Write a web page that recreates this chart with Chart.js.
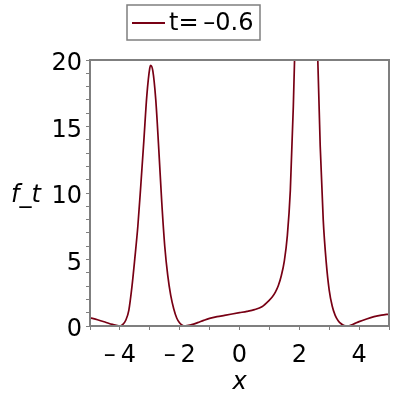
<!DOCTYPE html>
<html><head><meta charset="utf-8">
<script src="https://cdn.jsdelivr.net/npm/chart.js@4"></script>
<style>html,body{margin:0;padding:0;background:#fff}#wrap{width:400px;height:400px}</style>
</head><body><div id="wrap"><canvas id="c" width="400" height="400"></canvas></div>
<script>
const seriesLabel = 't=\u2009–0.6';
const xValues = [-5, -4.75, -4.5, -4.25, -4, -3.9, -3.8, -3.7, -3.6, -3.5, -3.4, -3.3, -3.2, -3.1, -3.0, -2.97, -2.9, -2.8, -2.7, -2.6, -2.5, -2.4, -2.3, -2.2, -2.1, -2.0, -1.9, -1.85, -1.6, -1.4, -1.2, -1.0, -0.75, -0.5, -0.25, 0, 0.25, 0.5, 0.75, 1.0, 1.1, 1.2, 1.3, 1.4, 1.5, 1.6, 1.7, 1.8, 1.9, 2.0, 2.1, 2.2, 2.3, 2.4, 2.5, 2.6, 2.7, 2.8, 2.9, 3.0, 3.1, 3.2, 3.3, 3.4, 3.5, 3.6, 3.8, 4.0, 4.25, 4.5, 4.75, 5.0];
const yValues = [0.62, 0.47, 0.3, 0.12, 0.0, 0.12, 0.45, 1.2, 2.9, 5.1, 7.5, 10.6, 13.9, 17.3, 19.4, 19.6, 19.2, 17.0, 13.3, 9.3, 6.0, 3.8, 2.3, 1.3, 0.6, 0.22, 0.03, 0.0, 0.1, 0.25, 0.42, 0.57, 0.7, 0.8, 0.9, 1.0, 1.1, 1.23, 1.45, 1.95, 2.2, 2.55, 3.05, 3.8, 4.9, 6.8, 10.2, 16.5, 25, 37, 50, 58, 55, 44, 31, 21.5, 13.5, 8.0, 4.8, 2.7, 1.5, 0.8, 0.4, 0.17, 0.04, 0.0, 0.13, 0.33, 0.53, 0.7, 0.82, 0.9];
const xTickValues = [-5, -4, -3, -2, -1, 0, 1, 2, 3, 4, 5];
const xTickLabels = ['', '–\u20094', '', '–\u20092', '', '0', '', '2', '', '4', ''];
const yTickValues = [0,1,2,3,4,5,6,7,8,9,10,11,12,13,14,15,16,17,18,19,20];
const yTickLabels = ['0','','','','','5','','','','','10','','','','','15','','','','','20'];
const xTitle = 'x';
const yTitle = 'f_t';

const FONT = 'DejaVu Sans';
const GRAY = '#7f7f7f';
const LINE = '#780014';

const framePlugin = {
  id: 'frame',
  afterDraw(chart) {
    const {ctx, chartArea: a} = chart;
    ctx.save();
    ctx.strokeStyle = GRAY;
    ctx.lineWidth = 2;
    ctx.strokeRect(a.left, a.top, a.right - a.left, a.bottom - a.top);
    // y-axis title, horizontal, aligned with the "10" label
    const ys = chart.scales.y;
    ctx.fillStyle = '#000';
    ctx.font = 'italic 24px "' + FONT + '"';
    ctx.textAlign = 'left';
    ctx.textBaseline = 'middle';
    ctx.fillText(yTitle, 11, ys.getPixelForValue(10) + 3);
    // legend
    const ds = chart.data.datasets[0];
    ctx.lineWidth = 1.5;
    ctx.strokeStyle = GRAY;
    ctx.strokeRect(127, 5, 133, 35);
    ctx.strokeStyle = ds.borderColor;
    ctx.lineWidth = 1.8;
    ctx.beginPath(); ctx.moveTo(132, 23); ctx.lineTo(165, 23); ctx.stroke();
    ctx.font = '24px "' + FONT + '"';
    ctx.fillStyle = '#000';
    ctx.fillText(ds.label, 169, 24);
    ctx.restore();
  }
};

new Chart(document.getElementById('c'), {
  type: 'line',
  data: {
    datasets: [{
      label: seriesLabel,
      data: xValues.map((x, i) => ({x: x, y: yValues[i]})),
      borderColor: LINE,
      borderWidth: 1.7,
      pointRadius: 0,
      fill: false,
      cubicInterpolationMode: 'monotone',
      clip: 0
    }]
  },
  options: {
    responsive: false,
    animation: false,
    events: [],
    layout: {padding: {top: 60, left: 0, right: 8, bottom: 0}},
    plugins: {legend: {display: false}, tooltip: {enabled: false}},
    scales: {
      x: {
        type: 'linear', min: -5, max: 5,
        afterBuildTicks: s => { s.ticks = xTickValues.map(v => ({value: v})); },
        afterFit: s => { s.height = 74; },
        ticks: {
          autoSkip: false, maxRotation: 0, padding: 11,
          font: {family: FONT, size: 24}, color: '#000',
          callback: (v, i) => xTickLabels[i]
        },
        grid: {display: true, drawOnChartArea: false, drawTicks: true, tickLength: 4, color: GRAY, lineWidth: 1},
        border: {display: false},
        title: {display: true, text: xTitle, font: {family: FONT, size: 24, style: 'italic'}, color: '#000', padding: {top: 0, bottom: 3}}
      },
      y: {
        type: 'linear', min: 0, max: 20,
        afterBuildTicks: s => { s.ticks = yTickValues.map(v => ({value: v})); },
        afterFit: s => { s.width = 90; },
        ticks: {
          autoSkip: false, padding: 4, labelOffset: 4,
          font: {family: FONT, size: 24}, color: '#000',
          callback: (v, i) => yTickLabels[i]
        },
        grid: {display: true, drawOnChartArea: false, drawTicks: true, tickLength: 4, color: GRAY, lineWidth: 1},
        border: {display: false}
      }
    }
  },
  plugins: [framePlugin]
});
</script></body></html>
